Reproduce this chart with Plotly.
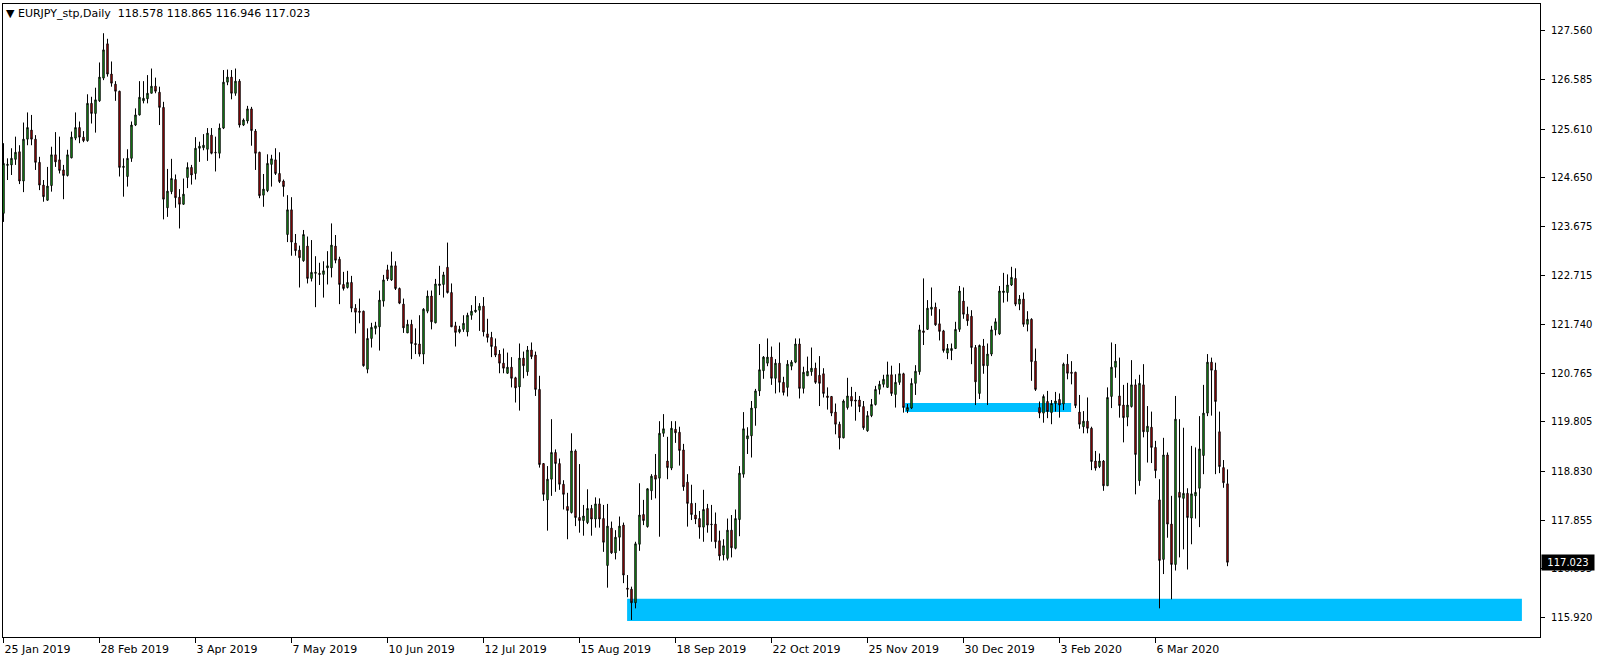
import plotly.graph_objects as go

# ---- data ----
opens = [
123.94,124.89,124.90,125.01,125.16,124.58,125.41,125.59,125.41,124.95,
124.50,124.20,124.49,125.10,125.00,124.80,124.69,125.04,125.43,125.64,
125.45,125.38,126.12,125.92,126.17,126.62,127.30,126.70,126.50,126.36,
124.85,124.67,125.03,125.69,125.89,126.17,126.21,126.32,126.46,126.34,
126.04,124.05,124.37,124.61,124.26,124.12,124.65,124.85,124.73,125.23,
125.24,125.21,125.49,125.15,125.13,125.63,126.54,126.64,126.32,126.56,
125.69,125.77,126.01,125.57,125.15,124.30,124.39,124.91,125.00,124.73,
124.58,123.52,124.01,123.35,123.21,123.00,123.29,122.65,122.75,122.75,
122.73,122.86,122.86,123.29,123.03,122.53,122.47,122.57,122.06,122.00,
122.00,120.85,121.46,121.66,121.69,122.20,122.82,122.62,122.90,122.45,
122.14,121.57,121.74,121.36,121.35,121.15,122.00,122.30,121.77,122.51,
122.53,122.87,122.37,121.71,121.59,121.64,121.59,121.92,121.99,122.02,
122.10,121.55,121.48,121.30,121.15,120.97,120.77,120.89,120.68,120.50,
121.07,120.80,121.23,121.13,120.45,118.98,118.26,118.67,119.20,118.98,
118.57,118.13,118.01,119.23,117.91,117.85,117.81,118.09,117.88,118.18,
117.89,116.96,117.70,117.21,117.52,117.76,116.51,116.49,116.22,117.38,
117.97,117.73,118.44,118.75,118.69,119.58,119.03,118.89,119.66,119.60,
119.25,118.61,118.19,117.96,117.89,117.72,118.09,117.78,117.78,117.45,
117.17,117.10,117.66,117.30,117.87,118.77,119.47,119.53,120.08,120.42,
120.82,120.97,121.09,120.67,120.97,120.59,120.49,120.91,120.99,121.35,
120.47,120.72,120.80,120.87,120.73,120.76,120.32,120.31,120.00,119.76,
119.49,120.09,120.31,120.24,120.24,120.11,119.63,119.93,120.15,120.45,
120.55,120.49,120.74,120.35,120.59,120.76,120.03,120.08,120.57,120.80,
121.61,121.64,122.04,122.08,121.75,121.61,121.17,121.22,121.26,121.64,
122.20,121.94,121.90,121.28,120.37,121.31,120.92,121.15,121.63,121.55,
122.37,122.37,122.52,122.65,122.14,122.24,121.74,121.84,121.01,120.09,
119.98,120.21,119.99,120.17,120.25,120.16,120.95,120.79,120.79,120.00,
119.71,119.82,119.68,119.03,118.92,119.03,118.54,120.31,120.89,120.32,
120.14,119.90,120.11,120.54,118.64,120.54,119.61,119.70,119.30,118.26,
117.08,119.15,117.78,116.98,118.41,118.29,118.39,117.90,118.34,118.49,
119.14,119.98,120.99,120.83,119.61,118.90,118.578]

highs = [
125.33,125.03,125.23,125.46,125.29,125.74,125.94,125.89,125.49,125.06,
124.60,124.86,125.26,125.55,125.46,124.90,125.20,125.56,125.94,125.76,
125.57,126.30,126.25,126.43,126.93,127.51,127.40,126.95,126.56,126.37,
125.03,125.21,125.76,126.02,126.56,126.56,126.68,126.81,126.63,126.45,
126.15,124.82,125.02,124.71,124.42,124.63,124.95,124.90,125.45,125.36,
125.51,125.63,125.63,125.46,125.72,126.78,126.79,126.78,126.81,126.60,
125.82,126.07,126.05,125.61,125.16,124.72,125.11,125.10,125.23,125.15,
124.61,124.30,124.26,123.53,123.30,123.61,123.48,123.41,123.09,122.96,
122.99,123.19,123.74,123.51,123.08,122.78,122.80,122.70,122.14,122.25,
122.01,121.66,121.77,121.79,122.41,122.72,122.92,123.18,122.99,122.47,
122.25,121.83,121.83,121.66,121.92,122.06,122.41,122.41,122.64,122.90,
122.78,123.36,122.55,121.79,121.71,121.92,121.97,122.12,122.30,122.16,
122.28,121.85,121.59,121.46,121.23,121.26,121.18,121.09,120.70,121.36,
121.20,121.31,121.38,121.20,120.72,118.99,118.93,119.86,119.26,119.08,
118.65,118.40,119.58,119.26,118.97,118.16,118.47,118.16,118.31,118.29,
118.16,118.18,117.83,117.66,117.93,117.81,116.77,116.54,117.43,118.59,
118.26,118.49,118.77,119.17,119.82,119.96,119.51,119.82,119.82,119.71,
119.37,118.77,118.56,118.20,118.04,118.46,118.18,118.16,118.01,117.65,
117.48,117.89,117.96,118.07,118.93,120.00,119.70,120.22,120.46,121.35,
121.11,121.46,121.30,121.05,121.38,120.70,121.03,121.03,121.46,121.46,
120.90,121.10,121.28,120.98,121.11,120.87,120.49,120.31,120.17,119.81,
120.25,120.68,120.50,120.40,120.32,120.22,120.02,120.26,120.52,120.62,
120.74,121.00,120.92,120.75,120.97,120.78,120.16,120.67,120.93,121.73,
122.65,122.22,122.47,122.17,122.04,121.63,121.35,121.36,121.79,122.50,
122.47,122.09,122.02,121.33,121.34,121.45,121.36,121.71,121.86,122.50,
122.76,122.73,122.88,122.85,122.32,122.37,122.00,121.86,121.26,120.21,
120.35,120.42,120.24,120.40,120.37,120.98,121.15,121.01,120.80,120.34,
120.02,120.29,119.71,119.23,119.18,119.05,120.49,121.38,121.35,121.08,
120.54,120.58,121.03,120.65,120.74,120.95,120.12,120.01,119.43,118.67,
119.49,119.20,118.34,120.32,119.86,119.69,118.49,119.33,119.30,119.92,
120.54,121.15,121.08,120.98,120.01,119.05,118.865]

lows = [
123.77,124.60,124.70,124.90,124.52,124.36,125.29,125.29,124.80,124.40,
124.17,124.19,124.37,124.86,124.73,124.22,124.67,125.03,125.39,125.33,
125.35,125.36,125.72,125.54,126.15,126.58,126.65,126.45,126.17,124.67,
124.27,124.47,124.96,125.67,125.88,126.12,126.12,126.32,126.32,125.69,
123.82,123.87,124.32,124.05,123.64,124.11,124.44,124.51,124.61,124.96,
125.19,124.98,125.11,124.77,125.03,125.61,126.48,126.20,126.27,125.64,
125.67,125.72,125.28,124.80,124.24,124.07,124.36,124.47,124.70,124.54,
124.27,123.37,123.10,123.10,122.47,122.98,122.55,122.59,122.08,122.52,
122.27,122.53,122.67,122.95,122.14,122.41,122.45,121.98,121.56,121.76,
120.90,120.77,121.28,121.54,121.22,122.09,122.60,122.60,122.42,122.14,
121.57,121.57,121.05,121.15,121.10,120.95,121.96,121.64,121.76,122.32,
122.27,122.35,121.69,121.30,121.56,121.59,121.50,121.83,121.97,121.61,
121.50,121.38,121.09,121.09,120.77,120.77,120.76,120.49,120.19,120.03,
120.67,120.72,121.05,120.32,118.90,118.24,117.65,118.34,118.42,118.46,
118.07,117.48,117.99,117.74,117.61,117.55,117.78,117.55,117.71,117.71,
117.23,116.52,117.19,117.08,117.25,116.61,116.33,115.88,116.11,117.25,
117.76,117.71,118.26,118.29,117.53,119.51,118.67,118.85,119.39,118.94,
118.44,117.73,117.86,117.78,117.49,117.43,117.61,117.43,117.30,117.06,
117.06,117.06,117.12,117.28,117.54,118.70,119.17,119.10,119.73,120.32,
120.66,120.91,120.54,120.37,120.39,120.33,120.31,120.83,120.97,120.27,
120.37,120.72,120.72,120.56,120.12,120.29,120.05,119.92,119.56,119.26,
119.48,120.05,120.11,119.83,120.00,119.65,119.61,119.90,120.13,120.35,
120.49,120.49,120.32,120.09,120.54,119.99,119.98,120.06,120.34,120.74,
121.33,121.63,121.91,121.71,121.42,121.18,121.05,121.03,121.25,121.59,
121.85,121.71,120.95,120.14,120.26,120.76,120.14,121.11,121.52,121.53,
122.17,122.19,122.50,122.10,122.02,121.69,121.60,120.62,120.42,119.88,
119.79,119.88,119.76,120.01,119.89,120.04,120.65,120.55,120.08,119.67,
119.58,119.58,118.85,118.84,118.89,118.44,118.54,120.08,120.68,119.89,
119.40,119.72,120.09,118.37,118.54,119.50,119.00,118.99,118.69,116.11,
116.79,117.51,116.29,116.86,117.12,117.28,116.88,117.38,117.89,117.72,
118.77,119.92,119.93,118.77,118.79,118.50,116.946]

closes = [
124.93,124.91,125.03,125.15,124.58,125.41,125.64,125.41,124.95,124.50,
124.27,124.48,125.10,124.96,124.79,124.69,125.10,125.45,125.64,125.45,
125.38,126.12,125.92,126.19,126.64,127.18,126.70,126.52,126.36,124.85,
124.87,125.03,125.69,125.89,126.24,126.22,126.32,126.46,126.36,126.04,
124.22,124.38,124.63,124.25,124.12,124.32,124.85,124.70,125.23,125.27,
125.29,125.53,125.13,125.14,125.63,126.54,126.64,126.32,126.56,125.69,
125.79,126.01,125.58,125.13,124.29,124.42,124.93,125.02,124.73,124.57,
124.47,124.01,123.37,123.20,123.06,123.52,122.65,122.77,122.77,122.73,
122.80,122.90,123.31,123.01,122.53,122.45,122.57,122.06,121.98,121.98,
120.92,121.46,121.68,121.71,122.22,122.62,122.64,122.90,122.45,122.16,
121.67,121.74,121.36,121.34,121.15,122.04,122.30,121.79,122.54,122.54,
122.72,122.37,121.69,121.58,121.64,121.76,121.92,122.00,122.02,122.10,
121.59,121.48,121.30,121.13,120.97,120.87,120.89,120.67,120.48,121.07,
120.92,121.23,121.10,120.45,118.96,118.37,118.67,119.20,118.98,118.57,
118.37,118.05,119.23,117.91,117.85,117.94,118.09,117.88,118.18,117.88,
117.42,117.74,117.21,117.52,117.74,116.77,116.49,116.22,117.39,117.96,
117.85,118.48,118.73,118.67,119.58,119.67,118.90,119.68,119.59,119.24,
118.52,118.19,117.97,117.88,117.72,118.07,117.76,117.77,117.43,117.15,
117.35,117.66,117.31,117.89,118.79,119.67,119.53,120.08,120.42,120.84,
121.09,121.09,120.67,120.97,120.59,120.39,120.95,120.99,121.35,120.47,
120.79,120.81,120.87,120.59,120.57,120.37,120.29,119.98,119.76,119.49,
120.22,120.32,120.22,120.22,120.11,119.69,119.93,120.15,120.45,120.55,
120.65,120.74,120.37,120.59,120.76,120.09,120.09,120.57,120.81,121.63,
121.58,122.06,122.08,121.73,121.60,121.22,121.26,121.26,121.64,122.40,
121.94,121.81,121.28,120.60,121.32,120.92,121.15,121.63,121.79,122.40,
122.40,122.52,122.67,122.14,122.24,121.74,121.84,121.00,120.45,119.98,
120.31,120.01,120.17,120.22,120.14,120.95,120.77,120.77,120.13,119.76,
119.82,119.68,119.02,118.89,119.03,118.54,120.29,120.89,121.01,120.13,
119.89,120.14,120.54,119.16,120.57,119.61,119.72,119.30,118.84,117.06,
119.15,117.78,116.98,119.86,118.31,118.39,117.91,118.38,118.41,119.27,
119.98,120.99,120.83,120.21,118.92,118.60,117.023]

bar_index = list(range(len(closes)))

date_tick_bars = [0, 24, 48, 72, 96, 120, 144, 168, 192, 216, 240, 264, 288]
date_tick_labels = ["25 Jan 2019", "28 Feb 2019", "3 Apr 2019", "7 May 2019",
                    "10 Jun 2019", "12 Jul 2019", "15 Aug 2019", "18 Sep 2019",
                    "22 Oct 2019", "25 Nov 2019", "30 Dec 2019", "3 Feb 2020",
                    "6 Mar 2020"]

price_ticks = [127.560, 126.585, 125.610, 124.650, 123.675, 122.715, 121.740,
               120.765, 119.805, 118.830, 117.855, 116.895, 115.920]

# zones (price bounds, bar bounds)
zone_low = dict(bar_start=155.9, bar_end=379.6, price_lo=115.86, price_hi=116.30)
zone_mid = dict(bar_start=225.4, bar_end=266.9, price_lo=120.00, price_hi=120.18)

symbol_title = "EURJPY_stp,Daily"
last_ohlc = [opens[-1], highs[-1], lows[-1], closes[-1]]

GREEN = "#22E022"
RED = "#F00A0A"
ZONE = "#00BFFF"
FONT = "DejaVu Sans"

fig = go.Figure()
fig.add_trace(go.Candlestick(
    x=bar_index, open=opens, high=highs, low=lows, close=closes,
    increasing=dict(line=dict(color="black", width=1), fillcolor=GREEN),
    decreasing=dict(line=dict(color="black", width=1), fillcolor=RED),
    whiskerwidth=0, showlegend=False, hoverinfo="skip",
))

for z in (zone_low, zone_mid):
    fig.add_shape(type="rect", xref="x", yref="y",
                  x0=z["bar_start"], x1=z["bar_end"], y0=z["price_lo"], y1=z["price_hi"],
                  fillcolor=ZONE, line=dict(width=0), layer="below")

W, H = 1604, 661
left, right, top, bottom = 3, 1540, 4, 637
px_per_bar = 4.0
first_bar_px = 3.5
x0 = -(first_bar_px - left) / px_per_bar
x1 = x0 + (right - left) / px_per_bar
px_per_unit = 50.45
ref_price, ref_px = 127.560, 30.7
y_top = ref_price + (ref_px - top) / px_per_unit
y_bot = ref_price - (bottom - ref_px) / px_per_unit

fig.update_layout(
    width=W, height=H,
    margin=dict(l=left, r=W - right, t=top, b=H - bottom, autoexpand=False),
    paper_bgcolor="white", plot_bgcolor="white",
    font=dict(family=FONT, size=10, color="black"),
    boxgap=0.5,
    showlegend=False,
    xaxis=dict(
        range=[x0, x1], rangeslider=dict(visible=False),
        tickmode="array", tickvals=date_tick_bars, ticktext=date_tick_labels,
        ticks="outside", ticklen=5, tickwidth=1, tickcolor="black",
        ticklabelposition="outside right", ticklabelstandoff=2,
        showgrid=False, zeroline=False,
        showline=True, linecolor="black", linewidth=1, mirror=True,
        tickfont=dict(family=FONT, size=11, color="black"),
    ),
    yaxis=dict(
        side="right", range=[y_bot, y_top],
        tickmode="array", tickvals=price_ticks,
        ticktext=[f"{v:.3f}" for v in price_ticks],
        ticks="outside", ticklen=4, tickwidth=1, tickcolor="black",
        ticklabelstandoff=4,
        showgrid=False, zeroline=False,
        showline=True, linecolor="black", linewidth=1, mirror=True,
        tickfont=dict(family=FONT, size=10, color="black"),
    ),
)

fig.add_annotation(
    x=1, xref="paper", y=closes[-1], yref="y",
    text=f"{closes[-1]:.3f}", showarrow=False, xanchor="left", yanchor="middle",
    xshift=1, width=50, height=13, align="center",
    bgcolor="black", font=dict(family=FONT, size=10, color="white"),
    borderpad=1,
)

fig.add_annotation(
    x=0, xref="paper", y=1, yref="paper", xanchor="left", yanchor="top",
    text="\u25BC " + symbol_title + "\u00a0\u00a0" + " ".join(f"{v:.3f}" for v in last_ohlc),
    showarrow=False, xshift=1, yshift=-1,
    font=dict(family=FONT, size=11, color="black"),
)

fig.write_html("out.html", config={"displayModeBar": False},
               post_script="document.body.style.margin='0px';")
